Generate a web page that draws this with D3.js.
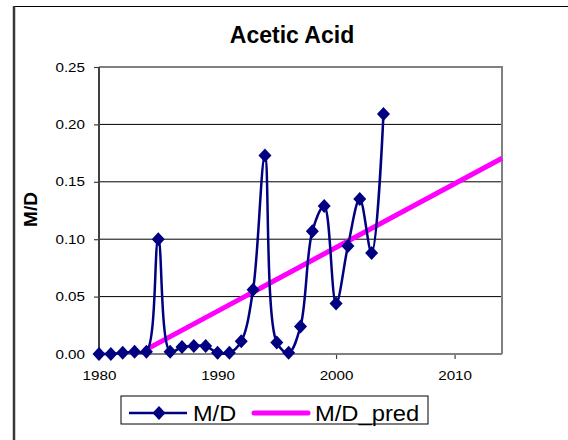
<!DOCTYPE html>
<html>
<head>
<meta charset="utf-8">
<script src="https://cdn.jsdelivr.net/npm/d3@7"></script>
<style>
  html, body { margin: 0; padding: 0; background: #fff; }
  svg { display: block; font-family: "Liberation Sans", Arial, sans-serif; }
</style>
</head>
<body>
<svg id="chart" width="568" height="440"></svg>
<script>
// ---- data ----
const years = [1980,1981,1982,1983,1984,1985,1986,1987,1988,1989,1990,1991,1992,1993,1994,1995,1996,1997,1998,1999,2000,2001,2002,2003,2004];
const mdValues = [0.000,0.000,0.001,0.002,0.002,0.100,0.002,0.006,0.007,0.007,0.001,0.001,0.011,0.056,0.173,0.010,0.001,0.024,0.107,0.129,0.044,0.094,0.135,0.088,0.209];
const predYears = [1984, 2014];
const predValues = [0.004, 0.1705];
const yTicks = [0, 0.05, 0.10, 0.15, 0.20, 0.25];
const xTicks = [1980, 1990, 2000, 2010];
const seriesNames = ["M/D", "M/D_pred"];
const title = "Acetic Acid";
const yLabel = "M/D";

const SX = 1.17; // horizontal widening of the small tick text
const svg = d3.select("#chart");
const L = 99, R = 502, T = 67, B = 354;
const x = d3.scaleLinear().domain([1980, 2014]).range([L, R]);
const y = d3.scaleLinear().domain([0, 0.25]).range([B, T]);

// outer chart frame (extends beyond viewport on right/bottom)
svg.append("line").attr("x1", 13).attr("x2", 600).attr("y1", 6.5).attr("y2", 6.5)
  .attr("stroke", "#000").attr("stroke-width", 1);
svg.append("line").attr("x1", 14).attr("x2", 14).attr("y1", 6).attr("y2", 440)
  .attr("stroke", "#383838").attr("stroke-width", 2.5);

// title
svg.append("text").attr("x", 292).attr("y", 43).attr("text-anchor", "middle")
  .attr("font-size", 23).attr("font-weight", "bold").text(title);

// gridlines
svg.append("g").selectAll("line").data(yTicks.filter(d => d > 0 && d < 0.25)).join("line")
  .attr("x1", L).attr("x2", R).attr("y1", d => y(d)).attr("y2", d => y(d))
  .attr("stroke", "#000").attr("stroke-width", 1);

// plot border (top/right)
svg.append("path").attr("d", `M${L},${T}H${R}V${B}`).attr("fill", "none")
  .attr("stroke", "#808080").attr("stroke-width", 2);

// axes
const yAxis = svg.append("g").attr("transform", `translate(${L},0)`)
  .call(d3.axisLeft(y).tickValues(yTicks).tickFormat(d3.format(".2f")).tickSize(5).tickPadding(8));
const xAxis = svg.append("g").attr("transform", `translate(0,${B})`)
  .call(d3.axisBottom(x).tickValues(xTicks).tickFormat(d3.format("d")).tickSize(5).tickPadding(12));
[yAxis, xAxis].forEach(a => {
  a.select(".domain").remove();
  a.attr("font-family", "'Liberation Sans', Arial, sans-serif").attr("font-size", 13);
  a.selectAll(".tick line").attr("stroke", "#404040").attr("stroke-width", 1.2);
  a.selectAll("text").attr("fill", "#000");
});
yAxis.selectAll(".tick text").attr("x", 0).attr("transform", `translate(-14,0) scale(${SX},1)`);
xAxis.selectAll(".tick text").attr("transform", `scale(${SX},1)`);

// axis lines
svg.append("line").attr("x1", L).attr("x2", L).attr("y1", T).attr("y2", B)
  .attr("stroke", "#404040").attr("stroke-width", 2);
svg.append("line").attr("x1", L).attr("x2", R).attr("y1", B).attr("y2", B)
  .attr("stroke", "#808080").attr("stroke-width", 2);

// y label
svg.append("text").attr("transform", `translate(37,${(T + B) / 2 - 1}) rotate(-90)`)
  .attr("text-anchor", "middle").attr("font-size", 19).attr("font-weight", "bold").text(yLabel);

// pred line
const predData = predYears.map((d, i) => ({ x: d, y: predValues[i] }));
svg.append("path").datum(predData)
  .attr("d", d3.line().x(d => x(d.x)).y(d => y(d.y)))
  .attr("fill", "none").attr("stroke", "#FF00FF").attr("stroke-width", 5);

// M/D series
const mdData = years.map((d, i) => ({ x: d, y: mdValues[i] }));
svg.append("path").datum(mdData)
  .attr("d", d3.line().x(d => x(d.x)).y(d => y(d.y)).curve(d3.curveCatmullRom.alpha(0.5)))
  .attr("fill", "none").attr("stroke", "#000080").attr("stroke-width", 2.5);

const diamond = "M0,-7L6.5,0L0,7L-6.5,0Z";
svg.append("g").selectAll("path").data(mdData).join("path")
  .attr("d", diamond).attr("transform", d => `translate(${x(d.x)},${y(d.y)})`)
  .attr("fill", "#000080");

// legend
const lg = svg.append("g");
lg.append("rect").attr("x", 121).attr("y", 396).attr("width", 307).attr("height", 28)
  .attr("fill", "#fff").attr("stroke", "#000").attr("stroke-width", 1);
lg.append("line").attr("x1", 129).attr("x2", 187).attr("y1", 413).attr("y2", 413)
  .attr("stroke", "#000080").attr("stroke-width", 2.5);
lg.append("path").attr("d", diamond).attr("transform", "translate(159,413)").attr("fill", "#000080");
lg.append("text").attr("transform", "translate(193,421) scale(1.07,1)").attr("font-size", 22).text(seriesNames[0]);
lg.append("line").attr("x1", 254).attr("x2", 308).attr("y1", 413).attr("y2", 413)
  .attr("stroke", "#FF00FF").attr("stroke-width", 5).attr("stroke-linecap", "round");
lg.append("text").attr("transform", "translate(315,421) scale(1.08,1)").attr("font-size", 22).text(seriesNames[1]);
</script>
</body>
</html>
